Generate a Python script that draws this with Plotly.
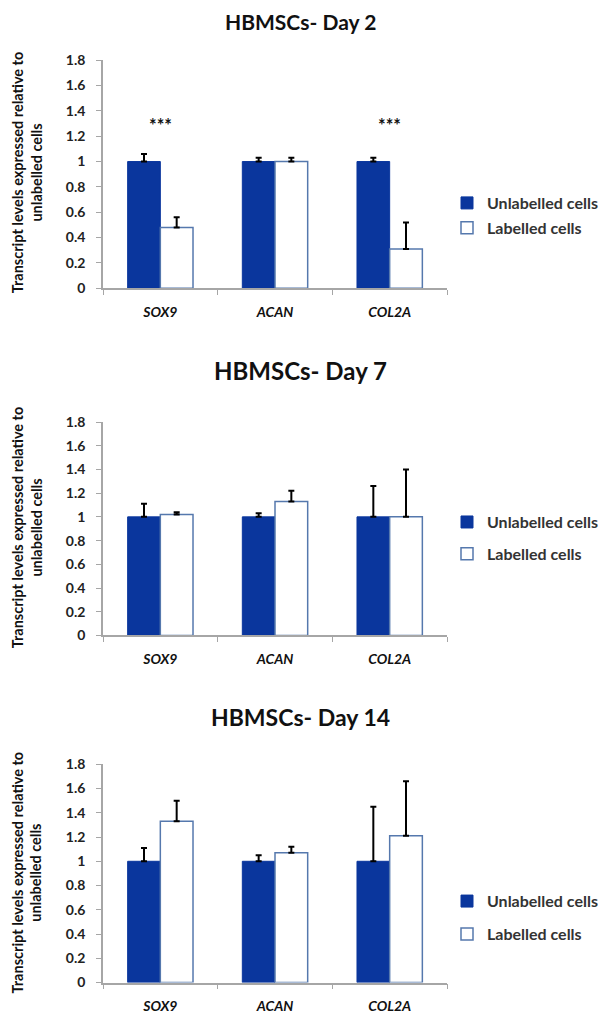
import plotly.graph_objects as go

categories = ["SOX9", "ACAN", "COL2A"]
panel_titles = ["HBMSCs- Day 2", "HBMSCs- Day 7", "HBMSCs- Day 14"]

# Day 2
d2_unlab = [1.0, 1.0, 1.0]
d2_unlab_err = [0.06, 0.03, 0.03]
d2_lab = [0.48, 1.0, 0.31]
d2_lab_err = [0.08, 0.03, 0.21]
d2_stars = ["***", "", "***"]

# Day 7
d7_unlab = [1.0, 1.0, 1.0]
d7_unlab_err = [0.11, 0.03, 0.26]
d7_lab = [1.02, 1.13, 1.0]
d7_lab_err = [0.02, 0.09, 0.40]

# Day 14
d14_unlab = [1.0, 1.0, 1.0]
d14_unlab_err = [0.11, 0.05, 0.45]
d14_lab = [1.33, 1.07, 1.21]
d14_lab_err = [0.17, 0.05, 0.45]

y_ticks = [0, 0.2, 0.4, 0.6, 0.8, 1, 1.2, 1.4, 1.6, 1.8]
y_ticktext = ["0", "0.2", "0.4", "0.6", "0.8", "1", "1.2", "1.4", "1.6", "1.8"]

W, H = 603, 1025
FONT = "Lato"
BLUE = "#0a369d"
OUTLINE = "#5578ad"
AXIS = "#a6a6a6"

def py(p):
    return 1 - p / H

panels = [
    dict(unlab=d2_unlab, ue=d2_unlab_err, lab=d2_lab, le=d2_lab_err, top=52, bot=284,
         title_y=13, title_size=21, leg_y=210, leg_gap=1, ytitle_y=166, stars=d2_stars),
    dict(unlab=d7_unlab, ue=d7_unlab_err, lab=d7_lab, le=d7_lab_err, top=420, bot=637,
         title_y=368, title_size=24, leg_y=538, leg_gap=8, ytitle_y=527, stars=None),
    dict(unlab=d14_unlab, ue=d14_unlab_err, lab=d14_lab, le=d14_lab_err, top=768, bot=990,
         title_y=720, title_size=23, leg_y=924, leg_gap=9, ytitle_y=878, stars=None),
]

x_dom = [103 / W, 447 / W]

fig = go.Figure()
annotations = []
layout = {}
for i, p in enumerate(panels):
    n = i + 1
    xa = "x" if n == 1 else f"x{n}"
    ya = "y" if n == 1 else f"y{n}"
    leg = "legend" if n == 1 else f"legend{n}"
    fig.add_trace(go.Bar(
        x=categories, y=p["unlab"], name="Unlabelled cells", legendgroup=f"u{n}",
        marker=dict(color=BLUE, line=dict(color=BLUE, width=1)),
        error_y=dict(type="data", array=p["ue"], arrayminus=[0] * 3, symmetric=False,
                     color="black", thickness=2, width=3),
        xaxis=xa, yaxis=ya, legend=leg,
    ))
    fig.add_trace(go.Bar(
        x=categories, y=p["lab"], name="Labelled cells", legendgroup=f"l{n}",
        marker=dict(color="white", line=dict(color=OUTLINE, width=1.5)),
        error_y=dict(type="data", array=p["le"], arrayminus=[0] * 3, symmetric=False,
                     color="black", thickness=2, width=3),
        xaxis=xa, yaxis=ya, legend=leg,
    ))
    xkey = "xaxis" if n == 1 else f"xaxis{n}"
    ykey = "yaxis" if n == 1 else f"yaxis{n}"
    layout[xkey] = dict(
        domain=x_dom, anchor=ya, type="category", range=[-0.5, 2.5],
        showline=True, linecolor=AXIS, linewidth=1.5,
        ticks="outside", tickson="boundaries", ticklen=5, tickcolor=AXIS,
        ticklabelstandoff=10,
        tickfont=dict(family=FONT, size=14, color="#111", weight="bold", style="italic"),
        showgrid=False, zeroline=False, fixedrange=True,
    )
    layout[ykey] = dict(
        domain=[py(p["bot"]), py(p["top"])], anchor=xa, range=[0, 1.8],
        tickvals=y_ticks, ticktext=y_ticktext,
        showline=True, linecolor=AXIS, linewidth=1.5,
        ticks="outside", ticklen=5, tickcolor=AXIS, ticklabelstandoff=8,
        tickfont=dict(family=FONT, size=14, color="#222", weight="bold"),
        showgrid=False, zeroline=False,
    )
    layout[leg] = dict(
        x=447 / W, xanchor="left", y=py(p["leg_y"]), yanchor="middle",
        font=dict(family=FONT, size=16, color="#333", weight="bold"),
        bgcolor="rgba(0,0,0,0)", itemwidth=30, traceorder="grouped",
        tracegroupgap=p["leg_gap"],
    )
    annotations.append(dict(
        text=f"<b>{panel_titles[i]}</b>", xref="paper", yref="paper",
        x=300 / W, y=py(p["title_y"]), xanchor="center", yanchor="middle",
        showarrow=False, font=dict(family=FONT, size=p["title_size"], color="#111"),
    ))
    annotations.append(dict(
        text="<b>Transcript levels expressed relative to<br>unlabelled cells</b>",
        xref="paper", yref="paper", x=27 / W, y=py(p["ytitle_y"]),
        xanchor="center", yanchor="middle", textangle=-90, showarrow=False,
        font=dict(family=FONT, size=14.5, color="#111"),
    ))
    if p["stars"]:
        for c, s in zip(categories, p["stars"]):
            if s:
                annotations.append(dict(
                    text=f"<b>{s}</b>", xref=xa, yref=ya, x=c, y=1.29,
                    xanchor="center", yanchor="middle", showarrow=False,
                    font=dict(family=FONT, size=18, color="#111"),
                ))

fig.update_layout(
    width=W, height=H, margin=dict(l=0, r=0, t=0, b=0),
    paper_bgcolor="white", plot_bgcolor="white",
    barmode="group", bargap=0.43, bargroupgap=0,
    annotations=annotations, showlegend=True,
    **layout,
)

fig.write_html("out.html")
